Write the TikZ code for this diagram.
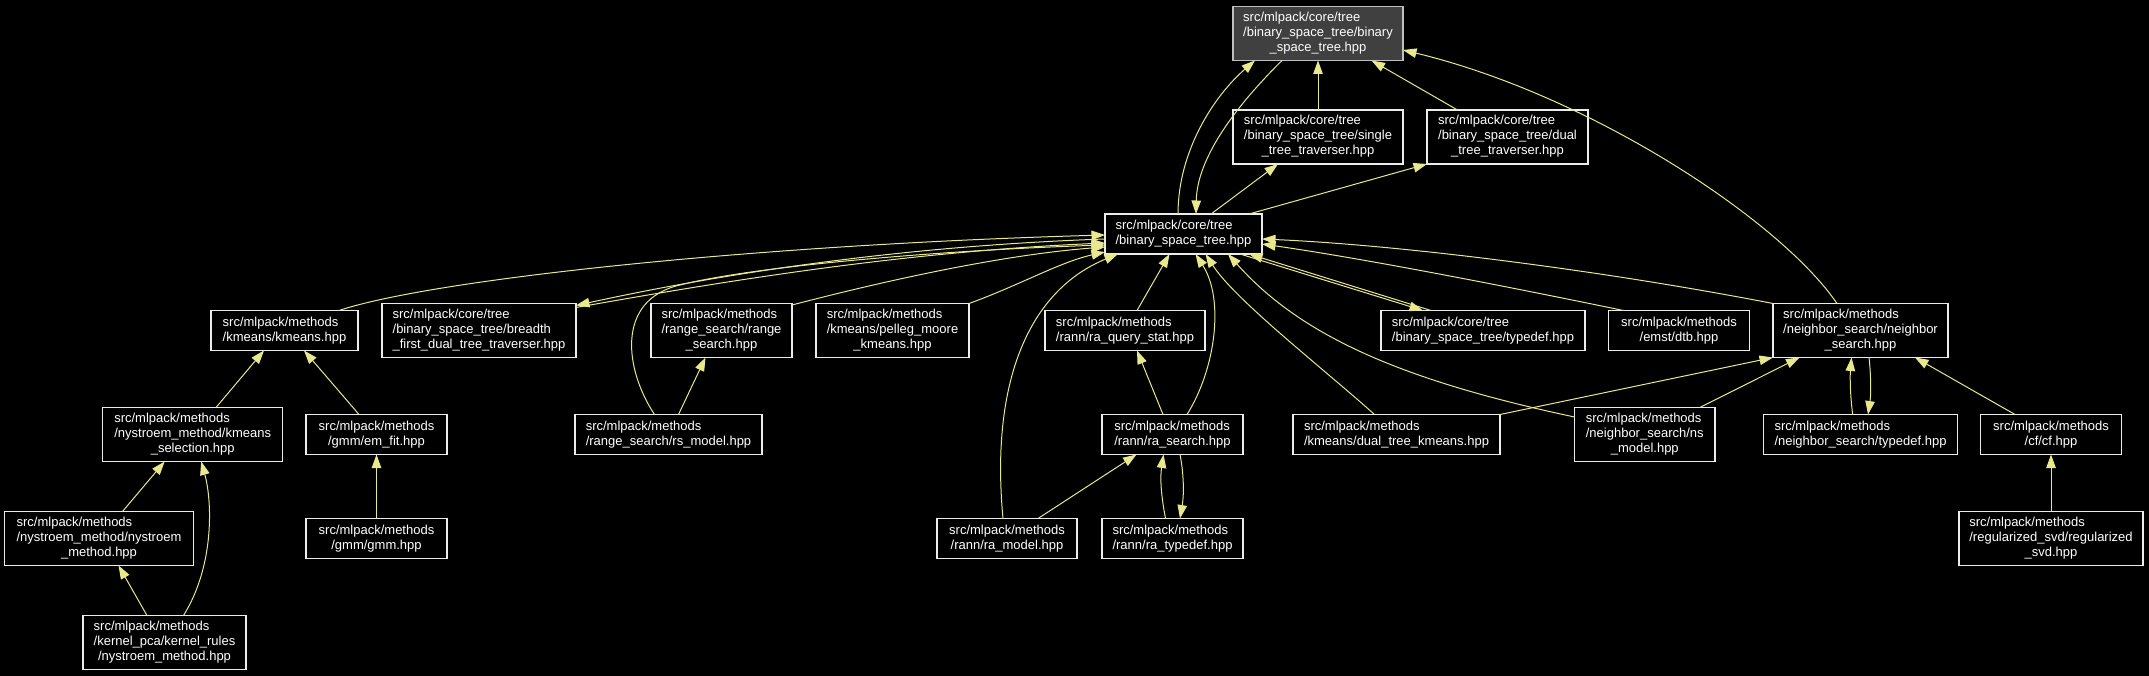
\documentclass[tikz,border=0pt]{standalone}
\usepackage{fontspec}
\setmainfont{Liberation Sans}
\usetikzlibrary{arrows.meta}
\definecolor{edgec}{RGB}{232,232,140}
\definecolor{topfill}{RGB}{64,64,64}
\definecolor{boxline}{RGB}{236,236,236}
\newcommand{\lbltwo}[2]{\begin{tabular}{@{}l@{}}#1\\\multicolumn{1}{@{}c@{}}{#2}\end{tabular}}
\newcommand{\lblthree}[3]{\begin{tabular}{@{}l@{}}#1\\#2\\\multicolumn{1}{@{}c@{}}{#3}\end{tabular}}
\begin{document}
\begin{tikzpicture}[x=1pt,y=-1pt,
  box/.style={draw=boxline, fill=black, text=white, line width=1.2pt, inner sep=0pt, outer sep=0pt,
    font=\fontsize{13}{15}\selectfont, align=center},
  two/.style={box, minimum height=40pt},
  three/.style={box, minimum height=54pt},
  e/.style={draw=edgec, line width=1pt, -{Triangle[length=13.5pt,width=9.5pt]}}]
\fill[black] (0,0) rectangle (2149,676);
% nodes
\node[three, fill=topfill, draw=white!75!black, minimum width=170pt] (top) at (1318,33.5)
  {\lblthree{src/mlpack/core/tree}{/binary\_space\_tree/binary}{\_space\_tree.hpp}};
\node[three, minimum width=170pt] (single) at (1318,137)
  {\lblthree{src/mlpack/core/tree}{/binary\_space\_tree/single}{\_tree\_traverser.hpp}};
\node[three, minimum width=161pt] (dual) at (1507.5,137)
  {\lblthree{src/mlpack/core/tree}{/binary\_space\_tree/dual}{\_tree\_traverser.hpp}};
\node[two, minimum width=157pt] (bst) at (1183.5,234)
  {\lbltwo{src/mlpack/core/tree}{/binary\_space\_tree.hpp}};
\node[two, minimum width=147pt] (kmeans) at (284.5,330.5)
  {\lbltwo{src/mlpack/methods}{/kmeans/kmeans.hpp}};
\node[three, minimum width=194pt] (breadth) at (479,330.5)
  {\lblthree{src/mlpack/core/tree}{/binary\_space\_tree/breadth}{\_first\_dual\_tree\_traverser.hpp}};
\node[three, minimum width=141pt] (range) at (721.5,330.5)
  {\lblthree{src/mlpack/methods}{/range\_search/range}{\_search.hpp}};
\node[three, minimum width=153pt] (pelleg) at (892.5,330.5)
  {\lblthree{src/mlpack/methods}{/kmeans/pelleg\_moore}{\_kmeans.hpp}};
\node[two, minimum width=160pt] (rqs) at (1125,330.5)
  {\lbltwo{src/mlpack/methods}{/rann/ra\_query\_stat.hpp}};
\node[two, minimum width=204pt] (bsttd) at (1483,330.5)
  {\lbltwo{src/mlpack/core/tree}{/binary\_space\_tree/typedef.hpp}};
\node[two, minimum width=140.5pt] (dtb) at (1679,330.5)
  {\lbltwo{src/mlpack/methods}{/emst/dtb.hpp}};
\node[three, minimum width=175pt] (ns) at (1860.5,330.5)
  {\lblthree{src/mlpack/methods}{/neighbor\_search/neighbor}{\_search.hpp}};
\node[three, minimum width=180pt] (ksel) at (192.7,434.5)
  {\lblthree{src/mlpack/methods}{/nystroem\_method/kmeans}{\_selection.hpp}};
\node[two, minimum width=141pt] (emfit) at (376.5,434.5)
  {\lbltwo{src/mlpack/methods}{/gmm/em\_fit.hpp}};
\node[two, minimum width=187pt] (rsmodel) at (668.5,434.5)
  {\lbltwo{src/mlpack/methods}{/range\_search/rs\_model.hpp}};
\node[two, minimum width=141pt] (rasearch) at (1172.5,434.5)
  {\lbltwo{src/mlpack/methods}{/rann/ra\_search.hpp}};
\node[two, minimum width=207pt] (dtk) at (1396.5,434.5)
  {\lbltwo{src/mlpack/methods}{/kmeans/dual\_tree\_kmeans.hpp}};
\node[three, minimum width=140.5pt] (nsmodel) at (1644.75,434.5)
  {\lblthree{src/mlpack/methods}{/neighbor\_search/ns}{\_model.hpp}};
\node[two, minimum width=194pt] (nstd) at (1860.5,434.5)
  {\lbltwo{src/mlpack/methods}{/neighbor\_search/typedef.hpp}};
\node[two, minimum width=141pt] (cf) at (2051,434.5)
  {\lbltwo{src/mlpack/methods}{/cf/cf.hpp}};
\node[three, minimum width=189pt] (nym) at (99,538.5)
  {\lblthree{src/mlpack/methods}{/nystroem\_method/nystroem}{\_method.hpp}};
\node[two, minimum width=141pt] (gmm) at (376.5,538.5)
  {\lbltwo{src/mlpack/methods}{/gmm/gmm.hpp}};
\node[two, minimum width=140pt] (ramodel) at (1007,538.5)
  {\lbltwo{src/mlpack/methods}{/rann/ra\_model.hpp}};
\node[two, minimum width=141pt] (ratd) at (1172.5,538.5)
  {\lbltwo{src/mlpack/methods}{/rann/ra\_typedef.hpp}};
\node[three, minimum width=163pt] (kr) at (164.5,642.5)
  {\lblthree{src/mlpack/methods}{/kernel\_pca/kernel\_rules}{/nystroem\_method.hpp}};
\node[three, minimum width=184pt] (rsvd) at (2051,538.5)
  {\lblthree{src/mlpack/methods}{/regularized\_svd/regularized}{\_svd.hpp}};
% edges
\draw[e] (single.north) -- (top.south);
\draw[e] ([shift={(-50,0)}]dual.north) -- ([shift={(53.5,0)}]top.south);
\draw[e] ([shift={(-5.5,0)}]bst.north) .. controls (1178,150) and (1215,95) .. ([shift={(-63,0)}]top.south);
\draw[e] ([shift={(-36,0)}]top.south) .. controls (1232,110) and (1197,160) .. ([shift={(12.5,0)}]bst.north);
\draw[e] ([shift={(27.5,0)}]bst.north) -- ([shift={(-40,0)}]single.south);
\draw[e] ([shift={(65.5,0)}]bst.north) -- (dual.south west);
\draw[e] ([shift={(-23.5,0)}]ns.north) .. controls (1780,220) and (1590,95) .. ([shift={(0,16.5)}]top.east);
\draw[e] ([shift={(54.5,0)}]kmeans.north) .. controls (430,280) and (750,245) .. ([shift={(0,1)}]bst.west);
\draw[e] ([shift={(0,-23)}]breadth.east) .. controls (720,282) and (900,252) .. ([shift={(0,9)}]bst.west);
\draw[e] ([shift={(0,5)}]bst.west) .. controls (900,246) and (720,274) .. ([shift={(0,-25)}]breadth.east);
\draw[e] ([shift={(0,-25.5)}]range.east) .. controls (880,282) and (1000,255) .. ([shift={(0,13)}]bst.west);
\draw[e] (pelleg.north east) .. controls (1020,285) and (1060,262) .. ([shift={(0,18)}]bst.west);
\draw[e] ([shift={(-14,0)}]rsmodel.north) .. controls (625,370) and (615,300) .. (680,285)
  .. controls (760,265) and (950,250) .. ([shift={(0,11)}]bst.west);
\draw[e] ([shift={(-4,0)}]ramodel.north) .. controls (990,380) and (1030,290) .. ([shift={(13,0)}]bst.south west);
\draw[e] ([shift={(12,0)}]rqs.north) -- ([shift={(-14,0)}]bst.south);
\draw[e] ([shift={(-9.5,0)}]rasearch.north) -- ([shift={(12,0)}]rqs.south);
\draw[e] ([shift={(14.5,0)}]rasearch.north) .. controls (1215,370) and (1225,300) .. ([shift={(12,0)}]bst.south);
\draw[e] ([shift={(-7,0)}]ratd.north) .. controls (1161,495) and (1160,478) .. ([shift={(-9,0)}]rasearch.south);
\draw[e] ([shift={(7.5,0)}]rasearch.south) .. controls (1184,475) and (1184,495) .. ([shift={(7.5,0)}]ratd.north);
\draw[e] ([shift={(31,0)}]ramodel.north) -- ([shift={(-36,0)}]rasearch.south);
\draw[e] ([shift={(-22,0)}]dtk.north) .. controls (1325,370) and (1235,300) .. ([shift={(22,0)}]bst.south);
\draw[e] (dtk.north east) -- (ns.south west);
\draw[e] ([shift={(0,-17.5)}]nsmodel.west) .. controls (1400,380) and (1300,335) .. ([shift={(-34,0)}]bst.south east);
\draw[e] ([shift={(55,0)}]nsmodel.north) -- ([shift={(-61,0)}]ns.south);
\draw[e] ([shift={(-52,0)}]bsttd.north) -- ([shift={(-13,0)}]bst.south east);
\draw[e] ([shift={(-22,0)}]bst.south east) -- ([shift={(-60,0)}]bsttd.north);
\draw[e] ([shift={(-55.5,0)}]dtb.north) .. controls (1500,285) and (1360,258) .. ([shift={(0,10)}]bst.east);
\draw[e] (ns.north west) .. controls (1600,270) and (1400,245) .. ([shift={(0,5)}]bst.east);
\draw[e] ([shift={(-7.8,0)}]nstd.north) .. controls (1850,395) and (1850,375) .. ([shift={(-9,0)}]ns.south);
\draw[e] ([shift={(8.5,0)}]ns.south) .. controls (1871,375) and (1871,395) .. ([shift={(7.5,0)}]nstd.north);
\draw[e] ([shift={(-36,0)}]cf.north) -- ([shift={(54.5,0)}]ns.south);
\draw[e] (rsvd.north) -- (cf.south);
\draw[e] ([shift={(23.3,0)}]ksel.north) -- ([shift={(-20.5,0)}]kmeans.south);
\draw[e] ([shift={(-17.5,0)}]emfit.north) -- ([shift={(19.5,0)}]kmeans.south);
\draw[e] (gmm.north) -- (emfit.south);
\draw[e] ([shift={(23.5,0)}]nym.north) -- ([shift={(-28,0)}]ksel.south);
\draw[e] ([shift={(-17.5,0)}]kr.north) -- ([shift={(19.5,0)}]nym.south);
\draw[e] ([shift={(19,0)}]kr.north) .. controls (215,565) and (212,500) .. ([shift={(8.5,0)}]ksel.south);
\draw[e] ([shift={(10,0)}]rsmodel.north) -- ([shift={(-16,0)}]range.south);
\end{tikzpicture}
\end{document}
